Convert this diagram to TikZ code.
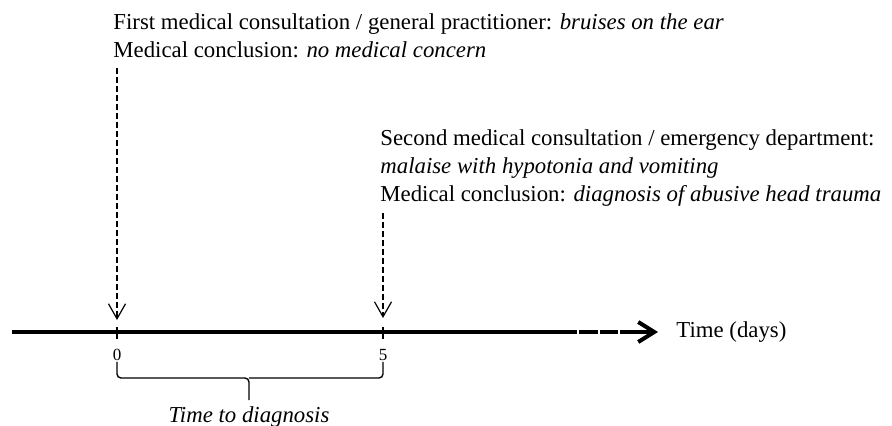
\documentclass[tikz,border=0pt]{standalone}
\usepackage{fontspec}
\setmainfont{Liberation Serif}
\usetikzlibrary{arrows.meta}

\begin{document}
\begin{tikzpicture}[x=0.5pt,y=-0.5pt,
  txt/.style={anchor=north west,inner sep=0pt,align=left,font=\fontsize{11.4}{14}\selectfont},
  ticklbl/.style={inner sep=0pt,font=\fontsize{8.5}{10}\selectfont},
  hint/.style={line width=0.6pt,dash pattern=on 3pt off 1.5pt,
    -{Straight Barb[length=7.5pt,width=8.5pt,line width=0.6pt]}},
  axis/.style={line width=2pt},
  tick/.style={line width=0.8pt},
  bracket/.style={line width=0.7pt,rounded corners=2pt}]
\useasboundingbox (0,0) rectangle (892,426);
% the two consultations
\node[txt] (first) at (113,13) {First medical consultation / general practitioner: \textit{bruises on the ear}\\
  Medical conclusion: \textit{no medical concern}};
\node[txt] (second) at (380,129.5) {Second medical consultation / emergency department:\\
  \textit{malaise with hypotonia and vomiting}\\
  Medical conclusion: \textit{diagnosis of abusive head trauma}};
% time axis
\coordinate (t0) at (117,332);
\coordinate (t5) at (383,332);
\node[anchor=west,inner sep=0pt,font=\fontsize{11.4}{14}\selectfont] (days) at (676,332) {Time (days)};
\draw[axis] (12,332) -- (577,332);
\foreach \a/\b in {579/598,600/618}
  \draw[axis] (\a,332) -- (\b,332);
\draw[axis,-{Straight Barb[length=8pt,width=10pt]}] (620,332) -- ([xshift=-9pt]days.west);
\draw[tick] ([yshift=2.5pt]t0) -- ([yshift=-3.5pt]t0);
\draw[tick] ([yshift=2.5pt]t5) -- ([yshift=-3.5pt]t5);
\node[ticklbl] (l0) at (117,355) {0};
\node[ticklbl] (l5) at (383,355) {5};
% consultation arrows
\draw[hint] (117,68) -- ([yshift=6pt]t0);
\draw[hint] (383,213) -- ([yshift=7pt]t5);
% time to diagnosis
\node[anchor=north,inner sep=0pt,font=\fontsize{11.4}{14}\selectfont\itshape] (ttd) at (249,406) {Time to diagnosis};
\draw[bracket] (117,362) |- (249,378) -- ([yshift=3pt]ttd.north);
\draw[bracket] (383,362) |- (249,378);
\end{tikzpicture}
\end{document}
